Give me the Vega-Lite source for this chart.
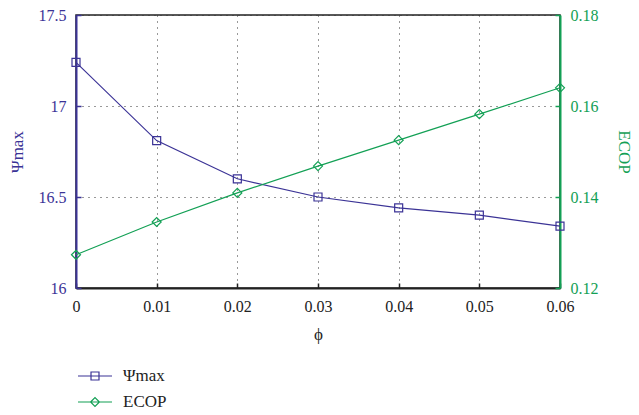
{
  "$schema": "https://vega.github.io/schema/vega-lite/v6.json",
  "width": 484,
  "height": 273,
  "autosize": "none",
  "padding": {"left": 76, "top": 15, "right": 79, "bottom": 127},
  "background": "white",
  "config": {
    "font": "Liberation Serif",
    "view": {"stroke": "#222222", "strokeWidth": 1.5},
    "axis": {"labelFont": "Liberation Serif", "titleFont": "Liberation Serif", "labelFontSize": 16, "titleFontSize": 17, "titleFontWeight": "normal", "labelFlush": false},
    "legend": {"labelFont": "Liberation Serif"}
  },
  "data": {
    "values": [
      {"phi": 0.00, "value": 17.24, "series": "Ψmax"},
      {"phi": 0.01, "value": 16.81, "series": "Ψmax"},
      {"phi": 0.02, "value": 16.60, "series": "Ψmax"},
      {"phi": 0.03, "value": 16.50, "series": "Ψmax"},
      {"phi": 0.04, "value": 16.44, "series": "Ψmax"},
      {"phi": 0.05, "value": 16.40, "series": "Ψmax"},
      {"phi": 0.06, "value": 16.34, "series": "Ψmax"},
      {"phi": 0.00, "value": 0.1273, "series": "ECOP"},
      {"phi": 0.01, "value": 0.1345, "series": "ECOP"},
      {"phi": 0.02, "value": 0.1409, "series": "ECOP"},
      {"phi": 0.03, "value": 0.1468, "series": "ECOP"},
      {"phi": 0.04, "value": 0.1525, "series": "ECOP"},
      {"phi": 0.05, "value": 0.1582, "series": "ECOP"},
      {"phi": 0.06, "value": 0.1640, "series": "ECOP"}
    ]
  },
  "encoding": {
    "x": {
      "field": "phi", "type": "quantitative",
      "scale": {"domain": [0, 0.06], "nice": false},
      "axis": {
        "title": "ϕ", "values": [0, 0.01, 0.02, 0.03, 0.04, 0.05, 0.06], "format": "~g",
        "grid": true, "gridDash": [1, 5], "gridColor": "#333333", "gridOpacity": 1, "gridWidth": 1,
        "domainColor": "#222222", "domainWidth": 2, "tickColor": "#222222", "tickSize": -5, "tickWidth": 1.5,
        "labelColor": "#222222", "titleColor": "#222222", "labelPadding": 15, "titlePadding": 12
      }
    },
    "color": {
      "field": "series", "type": "nominal",
      "scale": {"domain": ["Ψmax", "ECOP"], "range": ["#3b3396", "#13a055"]},
      "legend": {
        "title": null, "orient": "none", "legendX": 1, "legendY": 343, "direction": "vertical",
        "labelFontSize": 17, "labelColor": "#222222",
        "symbolSize": 1156, "symbolStrokeWidth": 1.2, "rowPadding": 0, "labelOffset": 10,
        "encode": {
          "symbols": {
            "update": {
              "shape": {"signal": "datum.value === 'ECOP' ? 'M-1,0H1M-0.26,0L0,-0.26L0.26,0L0,0.26Z' : 'M-1,0H1M-0.235,-0.235H0.235V0.235H-0.235Z'"},
              "fill": {"value": "transparent"}
            }
          }
        }
      }
    }
  },
  "layer": [
    {
      "transform": [{"filter": "datum.series === 'Ψmax'"}],
      "encoding": {
        "y": {
          "field": "value", "type": "quantitative",
          "scale": {"domain": [16, 17.5], "nice": false, "zero": false},
          "axis": {
            "orient": "left", "title": "Ψmax", "values": [16, 16.5, 17, 17.5], "format": "~g",
            "grid": true, "gridDash": [1, 5], "gridColor": "#333333", "gridOpacity": 1, "gridWidth": 1,
            "domainColor": "#3b3396", "domainWidth": 2, "tickColor": "#3b3396", "tickSize": -5, "tickWidth": 1.5,
            "labelColor": "#3b3396", "titleColor": "#3b3396", "labelPadding": 15, "titlePadding": 12
          }
        }
      },
      "layer": [
        {"mark": {"type": "line", "strokeWidth": 1.2}},
        {"mark": {"type": "point", "filled": false, "shape": "square", "size": 64, "strokeWidth": 1.2, "opacity": 1}}
      ]
    },
    {
      "transform": [{"filter": "datum.series === 'ECOP'"}],
      "encoding": {
        "y": {
          "field": "value", "type": "quantitative",
          "scale": {"domain": [0.12, 0.18], "nice": false, "zero": false},
          "axis": {
            "orient": "right", "title": "ECOP", "values": [0.12, 0.14, 0.16, 0.18], "format": ".2f",
            "grid": false,
            "domainColor": "#13a055", "domainWidth": 2, "tickColor": "#13a055", "tickSize": -5, "tickWidth": 1.5,
            "labelColor": "#13a055", "titleColor": "#13a055", "labelPadding": 15, "titlePadding": 16
          }
        }
      },
      "layer": [
        {"mark": {"type": "line", "strokeWidth": 1.2}},
        {"mark": {"type": "point", "filled": false, "shape": "diamond", "size": 81, "strokeWidth": 1.2, "opacity": 1}}
      ]
    }
  ],
  "resolve": {"scale": {"y": "independent"}}
}
